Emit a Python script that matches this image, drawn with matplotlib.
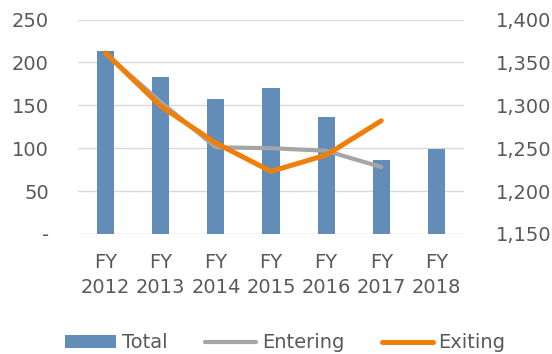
import matplotlib.pyplot as plt
from matplotlib.ticker import FuncFormatter

plt.rcParams['font.family'] = ['DejaVu Sans']

years = ["FY\n2012", "FY\n2013", "FY\n2014", "FY\n2015", "FY\n2016", "FY\n2017", "FY\n2018"]
total = [213, 183, 157, 170, 136, 86, 99]
entering = [1360, 1304, 1251, 1250, 1247, 1228]
exiting = [1361, 1299, 1256, 1223, 1242, 1282]

text_color = "#595959"
fs = 14
fig = plt.figure(figsize=(5.52, 3.54), dpi=100)
ax = fig.add_axes([0.1413, 0.339, 0.6993, 0.6059])
ax2 = ax.twinx()

x = list(range(len(years)))
bars = ax.bar(x, total, width=0.31, color="#628DB8", zorder=2, label="Total")
l1, = ax2.plot(x[:len(entering)], entering, color="#A5A5A5", lw=3, solid_capstyle="round", label="Entering")
l2, = ax2.plot(x[:len(exiting)], exiting, color="#F07F09", lw=3.6, solid_capstyle="round", label="Exiting")

ax.set_xlim(-0.5, len(years) - 0.5)
ax.set_ylim(0, 250)
ax2.set_ylim(1150, 1400)
ax.set_yticks(range(0, 251, 50))
ax2.set_yticks(range(1150, 1401, 50))
ax.yaxis.set_major_formatter(FuncFormatter(lambda v, p: "-" if v == 0 else f"{v:.0f}"))
ax2.yaxis.set_major_formatter(FuncFormatter(lambda v, p: f"{v:,.0f}"))
ax.set_xticks(x)
ax.set_xticklabels(years, linespacing=1.35)

ax.grid(axis="y", color="#D9D9D9", lw=1, zorder=0)
ax.set_axisbelow(True)
for a in (ax, ax2):
    for s in a.spines.values():
        s.set_visible(False)
    a.tick_params(length=0, labelsize=fs, colors=text_color)
ax.tick_params(axis="y", pad=21)
ax.tick_params(axis="x", pad=14)
ax2.tick_params(axis="y", pad=23)

fig.legend(handles=[bars, l1, l2], loc="lower center", bbox_to_anchor=(0.517, -0.045),
           ncol=3, frameon=False, fontsize=fs, labelcolor=text_color,
           handlelength=2.6, handletextpad=0.3, columnspacing=1.95)

fig.savefig("out.png", dpi=100)
